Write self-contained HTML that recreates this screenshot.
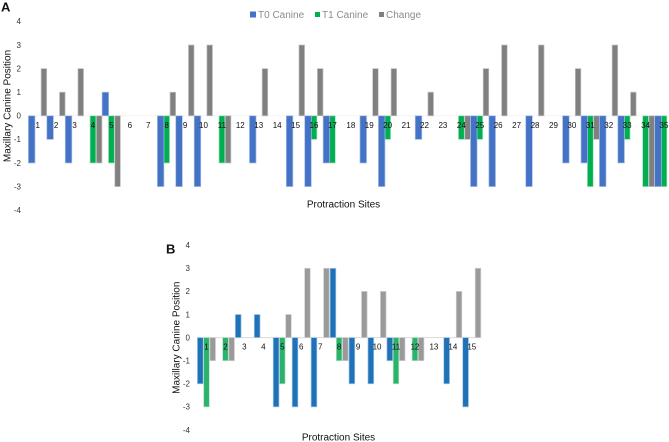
<!DOCTYPE html>
<html>
<head>
<meta charset="utf-8">
<style>
html,body{margin:0;padding:0;background:#fff;}
svg{display:block;font-family:"Liberation Sans",Arial,sans-serif;filter:blur(0.35px);}
</style>
</head>
<body>
<svg id="figure" width="669" height="442" viewBox="0 0 669 442" xmlns="http://www.w3.org/2000/svg">
  <rect width="669" height="442" fill="#fff"/>
  <g id="chartA"></g>
  <g id="chartB"></g>
  <text x="1" y="11.5" font-size="13" font-weight="bold" fill="#111">A</text>
  <text x="166" y="253.5" font-size="13" font-weight="bold" fill="#111">B</text>
  <g font-size="10" fill="#8c8c8c">
    <g>
      <rect x="250" y="11.5" width="6" height="6" fill="#4472c4"/>
      <text x="258" y="18">T0 Canine</text>
    </g>
    <g>
      <rect x="315" y="12" width="5" height="5" fill="#00b050"/>
      <text x="322" y="18">T1 Canine</text>
    </g>
    <g>
      <rect x="379" y="12" width="5" height="5" fill="#808080"/>
      <text x="386" y="18">Change</text>
    </g>
  </g>
</svg>
<script>
var yTicks = [4, 3, 2, 1, 0, -1, -2, -3, -4];

var sitesA = [1,2,3,4,5,6,7,8,9,10,11,12,13,14,15,16,17,18,19,20,21,22,23,24,25,26,27,28,29,30,31,32,33,34,35];
var t0A =     [-2,-1,-2,0,1,0,0,-3,-3,-3,0,0,-2,0,-3,-3,-2,0,-2,-3,0,-1,0,0,-3,-3,0,-3,0,-2,-2,-3,-2,0,-3];
var t1A =     [0,0,0,-2,-2,0,0,-2,0,0,-2,0,0,0,0,-1,-2,0,0,-1,0,0,0,-1,-1,0,0,0,0,0,-3,0,-1,-3,-3];
var changeA = [2,1,2,-2,-3,0,0,1,3,3,-2,0,2,0,3,2,0,0,2,2,0,1,0,-1,2,3,0,3,0,2,-1,3,1,-3,0];

var sitesB = [1,2,3,4,5,6,7,8,9,10,11,12,13,14,15];
var t0B =     [-2,0,1,1,-3,-3,-3,3,-2,-2,-1,0,0,-2,-3];
var t1B =     [-3,-1,0,0,-2,0,0,-1,0,0,-2,-1,0,0,0];
var changeB = [-1,-1,0,0,1,3,3,-1,2,2,-1,-1,0,2,3];

var NS = 'http://www.w3.org/2000/svg';

function mk(parent, tag, attrs, text) {
  var el = document.createElementNS(NS, tag);
  for (var k in attrs) el.setAttribute(k, attrs[k]);
  if (text !== undefined) el.textContent = text;
  parent.appendChild(el);
  return el;
}

function drawChart(root, cfg) {
  function xScale(i) { return cfg.x0 + i * cfg.step; }
  function yScale(v) { return cfg.y0 - v * cfg.unit; }

  var axis = mk(root, 'line', {x1: cfg.axisStart, x2: cfg.axisEnd, y1: yScale(0), y2: yScale(0), stroke: cfg.axisColor, 'stroke-width': 1});
  
  

  yTicks.forEach(function (t) {
    var tick = mk(root, 'text', {x: cfg.tickRight, y: yScale(t) + 2.8, 'font-size': 8, 'text-anchor': 'end', fill: '#333'}, String(t));
    
    
  });

  cfg.series.forEach(function (s) {
    s.values.forEach(function (v, i) {
      if (v === 0) return;
      var cx = xScale(i) + s.offset;
      var top = Math.min(yScale(v), yScale(0));
      var h = Math.abs(yScale(v) - yScale(0));
      var bar = mk(root, 'rect', {x: cx - s.width / 2, y: top, width: s.width, height: h, fill: s.color, stroke: s.edge, 'stroke-width': 0.7});
      
      
    });
  });

  cfg.sites.forEach(function (c, i) {
    var lab = mk(root, 'text', {x: xScale(i), y: yScale(0) + 12, 'font-size': 8, 'text-anchor': 'middle', fill: '#111'}, String(c));
    
    
  });

  var yt = mk(root, 'text', {transform: 'translate(' + cfg.yTitleX + ' ' + cfg.yTitleY + ') rotate(-90)', 'font-size': 10, 'text-anchor': 'middle', fill: '#111'}, 'Maxillary Canine Position');
  
  

  var xt = mk(root, 'text', {x: cfg.xTitleX, y: cfg.xTitleY, 'font-size': 10, 'text-anchor': 'middle', fill: '#111'}, 'Protraction Sites');
  
  
}

drawChart(document.getElementById('chartA'), {
  sites: sitesA, x0: 37.7, step: 18.42, y0: 115.8, unit: 23.6,
  axisStart: 28, axisEnd: 669, axisColor: '#f4f4f4', tickRight: 21,
  yTitleX: 10.5, yTitleY: 106, xTitleX: 343.5, xTitleY: 207.5,
  series: [
    {key: 'change', values: changeA, offset: 6.2, width: 5.6, color: '#808080', edge: '#c4c4c4'},
    {key: 't1', values: t1A, offset: 0, width: 5.8, color: '#00b050', edge: '#a8dcbc'},
    {key: 't0', values: t0A, offset: -6, width: 6.6, color: '#4472c4', edge: '#a9c0e8'}
  ]
});

drawChart(document.getElementById('chartB'), {
  sites: sitesB, x0: 206.5, step: 18.95, y0: 337.6, unit: 23.1,
  axisStart: 197, axisEnd: 481, axisColor: '#d9d9d9', tickRight: 190,
  yTitleX: 179.5, yTitleY: 337.7, xTitleX: 338.5, xTitleY: 440.5,
  series: [
    {key: 'change', values: changeB, offset: 6.2, width: 5.6, color: '#9a9a9a', edge: '#d0d0d0'},
    {key: 't1', values: t1B, offset: 0, width: 5.6, color: '#2bb26b', edge: '#b0e0c4'},
    {key: 't0', values: t0B, offset: -6.2, width: 5.8, color: '#1f72b8', edge: '#a8cce8'}
  ]
});
</script>
</body>
</html>
